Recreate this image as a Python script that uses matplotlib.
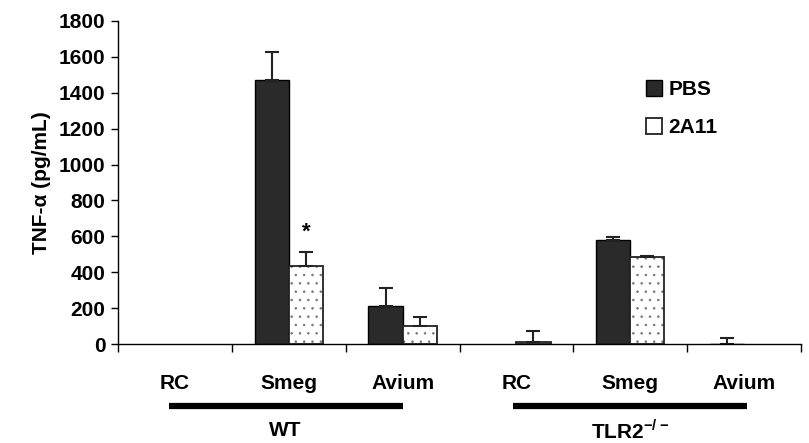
import matplotlib.pyplot as plt
from matplotlib.patches import Patch
import numpy as np

plt.rcParams['font.family'] = ['Liberation Sans', 'DejaVu Sans']
plt.rcParams['font.weight'] = 'bold'
plt.rcParams['mathtext.fontset'] = 'custom'
plt.rcParams['mathtext.rm'] = 'Liberation Sans:bold'
plt.rcParams['mathtext.bf'] = 'Liberation Sans:bold'
plt.rcParams['hatch.linewidth'] = 0.6

# datos (pg/mL)
grupos = ["RC", "Smeg", "Avium", "RC", "Smeg", "Avium"]
pbs = [0, 1470, 212, 0, 580, 2]
pbs_err = [0, 160, 100, 0, 18, 30]
a11 = [0, 435, 100, 12, 485, 0]
a11_err = [0, 80, 50, 58, 8, 0]
cepas = ["WT", r"TLR2$^{\mathrm{-/-}}$"]

fig = plt.figure(figsize=(8.09, 4.43), dpi=100)
ax = fig.add_axes([118 / 809, 99 / 443, (801 - 118) / 809, 323 / 443])

x = np.arange(len(grupos)) + 0.5
w = 0.3
ek = dict(elinewidth=1.5, capthick=1.5, ecolor='#222222')

# solo se dibujan las barras con valor o con error
ip = [i for i in range(len(grupos)) if pbs[i] > 0 or pbs_err[i] > 0]
ia = [i for i in range(len(grupos)) if a11[i] > 0 or a11_err[i] > 0]

ax.bar(x[ip] - w / 2, [pbs[i] for i in ip], w, color='#2a2a2a', edgecolor='black', linewidth=1,
       yerr=[[0] * len(ip), [pbs_err[i] for i in ip]], capsize=5, error_kw=ek)
ax.bar(x[ia] + w / 2, [a11[i] for i in ia], w, color='white', edgecolor='#777777', linewidth=0,
       hatch='..')
ax.bar(x[ia] + w / 2, [a11[i] for i in ia], w, color='none', edgecolor='#222222', linewidth=1.3,
       yerr=[[0] * len(ia), [a11_err[i] for i in ia]], capsize=5, error_kw=ek)

# asterisco de significancia
ax.text(x[1] + w / 2, a11[1] + a11_err[1] + 50, "*", ha='center', va='bottom', fontsize=16)

ax.set_xlim(0, (801 - 118) / 116.2)
ax.set_ylim(0, 1800)
ax.set_yticks(range(0, 1801, 200))
ax.set_xticks(range(0, 7))
ax.set_xticklabels([])
ax.tick_params(axis='y', labelsize=15, length=5, width=1, direction='out', pad=4)
ax.tick_params(axis='x', length=6, width=1, direction='out')
for s in ['top', 'right']:
    ax.spines[s].set_visible(False)
ax.spines['left'].set_linewidth(1)
ax.spines['bottom'].set_linewidth(1)
ax.set_ylabel("TNF-α (pg/mL)", fontsize=15, fontweight='bold', labelpad=6)

# etiquetas de categorias y grupos debajo del eje
for xi, g in zip(x, grupos):
    ax.text(xi, -220, g, ha='center', va='center', fontsize=15, clip_on=False)
ax.plot([0.45, 2.5], [-345, -345], color='black', lw=4.5, clip_on=False, solid_capstyle='butt')
ax.plot([3.47, 5.53], [-345, -345], color='black', lw=4.5, clip_on=False, solid_capstyle='butt')
ax.text(1.47, -480, cepas[0], ha='center', va='center', fontsize=15, clip_on=False)
ax.text(4.5, -480, cepas[1], ha='center', va='center', fontsize=15, clip_on=False)

handles = [Patch(facecolor='#2a2a2a', edgecolor='black', linewidth=1, label='PBS'),
           Patch(facecolor='white', edgecolor='#222222', linewidth=1.3, label='2A11')]
ax.legend(handles=handles, loc='upper left', bbox_to_anchor=(0.745, 0.875), frameon=False,
          fontsize=15, handlelength=0.8, handleheight=0.8, handletextpad=0.3, labelspacing=0.9)

fig.savefig("out.png", dpi=100)
